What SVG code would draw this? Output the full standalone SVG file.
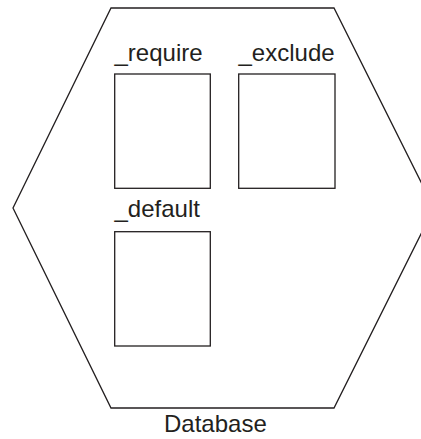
<svg xmlns="http://www.w3.org/2000/svg" width="421" height="439" viewBox="0 0 421 439">
<style>
.s{fill:none;stroke:#231f20;stroke-width:1.3}
.t{font-family:"Liberation Sans",Arial,sans-serif;font-size:24px;fill:#231f20}
</style>
<rect width="421" height="439" fill="#fff"/>
<g id="database">
<polygon class="s" points="111,8 334,8 434,208 334,408 111,408 13,208"/>
<text class="t" x="164" y="432">Database</text>
</g>
<g id="require">
<rect class="s" x="114.7" y="74" width="95.6" height="114.3"/>
<text class="t" x="114.5" y="60.5">_require</text>
</g>
<g id="exclude">
<rect class="s" x="238.7" y="74" width="96.3" height="114.3"/>
<text class="t" x="238.5" y="60.5">_exclude</text>
</g>
<g id="default">
<rect class="s" x="114.7" y="231.7" width="95.6" height="114.3"/>
<text class="t" x="114.5" y="216.5">_default</text>
</g>
<g id="connectors"/>
</svg>
